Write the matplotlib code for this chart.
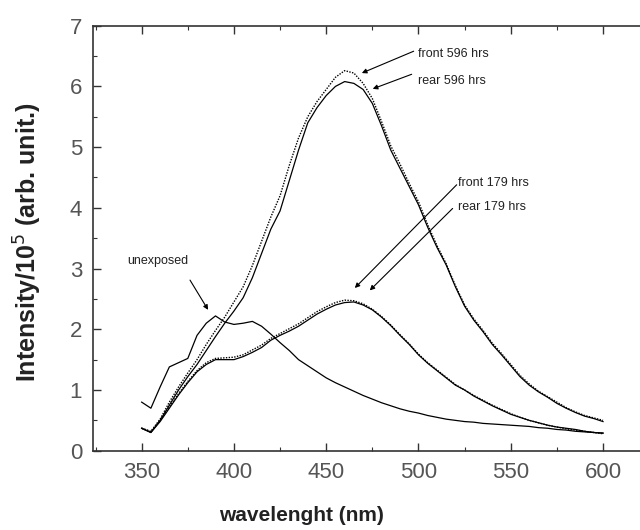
import numpy as np
import matplotlib
matplotlib.use("Agg")
import matplotlib.pyplot as plt
from matplotlib.ticker import MultipleLocator

# wavelength grid (nm), 5 nm steps
wavelength = np.arange(350, 601, 5)

unexposed = [0.80, 0.70, 1.05, 1.38, 1.45, 1.52, 1.90, 2.10, 2.22, 2.12,
             2.08, 2.10, 2.13, 2.05, 1.92, 1.78, 1.65, 1.50, 1.40, 1.30,
             1.20, 1.12, 1.05, 0.98, 0.91, 0.85, 0.79, 0.74, 0.69, 0.65,
             0.62, 0.58, 0.55, 0.52, 0.50, 0.48, 0.47, 0.45, 0.44, 0.43,
             0.42, 0.41, 0.40, 0.38, 0.37, 0.35, 0.34, 0.32, 0.31, 0.30, 0.29]

rear_596 = [0.37, 0.30, 0.50, 0.75, 1.00, 1.22, 1.42, 1.65, 1.88, 2.10,
            2.30, 2.52, 2.85, 3.25, 3.65, 3.95, 4.45, 4.95, 5.40, 5.65,
            5.85, 6.00, 6.08, 6.05, 5.95, 5.72, 5.35, 4.95, 4.65, 4.35,
            4.05, 3.68, 3.35, 3.06, 2.70, 2.38, 2.15, 1.96, 1.75, 1.58,
            1.40, 1.22, 1.08, 0.97, 0.88, 0.78, 0.70, 0.63, 0.57, 0.53, 0.48]

front_596 = [0.37, 0.32, 0.52, 0.80, 1.05, 1.28, 1.50, 1.75, 1.98, 2.20,
             2.45, 2.70, 3.05, 3.45, 3.85, 4.20, 4.70, 5.15, 5.50, 5.75,
             5.95, 6.15, 6.26, 6.22, 6.05, 5.80, 5.42, 5.02, 4.72, 4.40,
             4.10, 3.72, 3.38, 3.08, 2.72, 2.40, 2.17, 1.98, 1.77, 1.60,
             1.42, 1.24, 1.10, 0.98, 0.89, 0.80, 0.71, 0.64, 0.58, 0.54, 0.50]

rear_179 = [0.37, 0.30, 0.48, 0.70, 0.92, 1.12, 1.30, 1.42, 1.50, 1.50,
            1.50, 1.55, 1.62, 1.70, 1.82, 1.90, 1.97, 2.05, 2.15, 2.25,
            2.33, 2.40, 2.44, 2.45, 2.40, 2.32, 2.20, 2.06, 1.90, 1.75,
            1.58, 1.44, 1.32, 1.20, 1.08, 1.00, 0.90, 0.82, 0.74, 0.67,
            0.60, 0.55, 0.50, 0.46, 0.42, 0.39, 0.37, 0.35, 0.32, 0.30, 0.29]

front_179 = [0.37, 0.31, 0.50, 0.72, 0.94, 1.14, 1.32, 1.45, 1.52, 1.53,
             1.54, 1.58, 1.66, 1.74, 1.85, 1.93, 2.01, 2.09, 2.19, 2.29,
             2.37, 2.44, 2.48, 2.47, 2.42, 2.33, 2.21, 2.07, 1.91, 1.76,
             1.59, 1.45, 1.33, 1.21, 1.09, 1.00, 0.91, 0.83, 0.75, 0.68,
             0.61, 0.55, 0.50, 0.46, 0.42, 0.39, 0.36, 0.34, 0.32, 0.30, 0.28]

# annotation: label, text position, arrow tail, arrow head (data coords)
notes = [
    ('front 596 hrs', (499.6, 6.54), (497.4, 6.58), (469.3, 6.22)),
    ('rear 596 hrs', (499.6, 6.09), (496.3, 6.20), (475.2, 5.96)),
    ('front 179 hrs', (521.2, 4.41), (520.7, 4.38), (465.5, 2.68)),
    ('rear 179 hrs', (521.2, 4.01), (518.5, 3.99), (473.6, 2.64)),
    ('unexposed', (342.0, 3.13), (376.2, 2.81), (386.0, 2.32)),
]

plt.rcParams['font.family'] = ['Liberation Sans', 'DejaVu Sans']

fig = plt.figure(figsize=(6.4, 5.3), dpi=100)
ax = fig.add_axes([0.1458, 0.1496, 0.8714, 0.8019])

ax.plot(wavelength, unexposed, color='k', lw=0.9)
ax.plot(wavelength, rear_596, color='k', lw=0.9)
ax.plot(wavelength, front_596, color='k', lw=1.0, ls=(0, (1, 1)))
ax.plot(wavelength, rear_179, color='k', lw=0.9)
ax.plot(wavelength, front_179, color='k', lw=1.0, ls=(0, (1, 1)))

ax.set_xlim(323.8, 626)
ax.set_ylim(0, 7)
ax.xaxis.set_major_locator(MultipleLocator(50))
ax.xaxis.set_minor_locator(MultipleLocator(25))
ax.yaxis.set_major_locator(MultipleLocator(1))
ax.yaxis.set_minor_locator(MultipleLocator(0.5))
ax.tick_params(which='both', direction='in', top=True, right=False,
               colors='#333333', labelcolor='#555555')
ax.tick_params(which='major', length=6, width=1, labelsize=16, pad=8)
ax.tick_params(which='minor', length=3, width=0.8)
for s in ['left', 'bottom', 'top']:
    ax.spines[s].set_color('#333333')
    ax.spines[s].set_linewidth(1.2)
ax.spines['right'].set_visible(False)

ax.set_ylabel('Intensity/10$^5$ (arb. unit.)', fontsize=18,
              fontweight='bold', color='#222222')
ax.yaxis.set_label_coords(-0.088, 0.49)
ax.set_xlabel('wavelenght (nm)', fontsize=15,
              fontweight='bold', color='#222222')
ax.xaxis.set_label_coords(0.374, -0.13)

for label, tpos, tail, head in notes:
    ax.text(tpos[0], tpos[1], label, fontsize=9, color='#222222',
            ha='left', va='center')
    ax.annotate('', xy=head, xytext=tail,
                arrowprops=dict(arrowstyle='-|>', color='k', lw=0.8,
                                mutation_scale=7, shrinkA=0, shrinkB=0))

fig.savefig('out.png', dpi=100)
